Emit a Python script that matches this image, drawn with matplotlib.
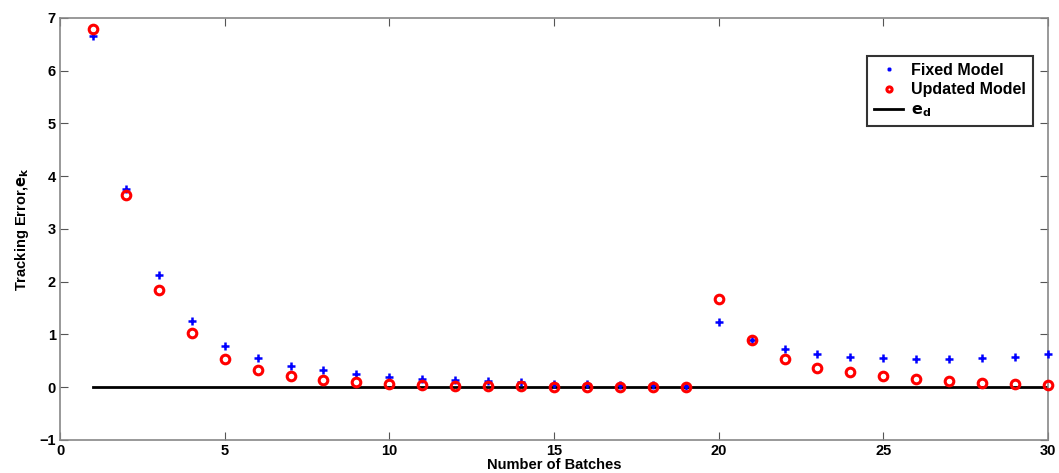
import matplotlib
matplotlib.use("Agg")
import matplotlib.pyplot as plt
import numpy as np

batches = list(range(1, 31))
fixed_model = [6.65, 3.75, 2.13, 1.25, 0.78, 0.55, 0.41, 0.32, 0.25, 0.20,
               0.16, 0.13, 0.11, 0.09, 0.07, 0.06, 0.05, 0.04, 0.03, 1.23,
               0.90, 0.73, 0.63, 0.58, 0.55, 0.53, 0.53, 0.55, 0.58, 0.63]
updated_model = [6.80, 3.65, 1.85, 1.02, 0.54, 0.32, 0.21, 0.14, 0.09, 0.06,
                 0.04, 0.03, 0.02, 0.015, 0.01, 0.01, 0.005, 0.005, 0.0, 1.68,
                 0.90, 0.53, 0.37, 0.29, 0.21, 0.15, 0.12, 0.08, 0.07, 0.05]
e_d = [0.0] * 30

plt.rcParams['font.family'] = ['Liberation Sans', 'DejaVu Sans']
plt.rcParams['font.weight'] = 'bold'
myFontSize = 10.5

fig = plt.figure(figsize=(10.59, 4.73), dpi=100)
ax = fig.add_axes([0.0567, 0.0698, 0.9329, 0.8922])

ax.plot(batches, fixed_model, '+', color='blue', markersize=6, markeredgewidth=1.8,
        label='Fixed Model', clip_on=False, zorder=3)
ax.plot(batches, updated_model, 'o', color='red', markerfacecolor='none',
        markersize=6.2, markeredgewidth=2.2, label='Updated Model', clip_on=False, zorder=4)
ax.plot(batches, e_d, '-', color='black', linewidth=2, label='$\\mathbf{e_d}$', zorder=2)

ax.set_xlim(0, 30)
ax.set_ylim(-1, 7)
ax.set_xticks(np.arange(0, 31, 5))
ax.set_yticks(np.arange(-1, 8, 1))
ax.set_yticklabels(['\u22121'] + [str(v) for v in range(0, 8)])
ax.tick_params(direction='in', top=True, right=True, length=6, width=0.8,
               color='#555555', labelsize=myFontSize, pad=3)
for s in ax.spines.values():
    s.set_color('#888888')
    s.set_linewidth(1.2)

ax.set_xlabel("Number of Batches", fontsize=myFontSize, fontweight='bold', labelpad=0)
ax.set_ylabel("Tracking Error,$\\mathbf{e_k}$", fontsize=myFontSize, fontweight='bold', labelpad=6)

leg = ax.legend(loc='upper right', bbox_to_anchor=(0.993, 0.93), markerscale=0.6,
                frameon=True, fancybox=False, edgecolor='black', handlelength=1.8,
                handletextpad=0.5, borderpad=0.45, labelspacing=0.3,
                prop={'weight': 'bold', 'size': myFontSize + 1})
leg.get_frame().set_linewidth(1.5)

fig.savefig('out.png', dpi=100)
